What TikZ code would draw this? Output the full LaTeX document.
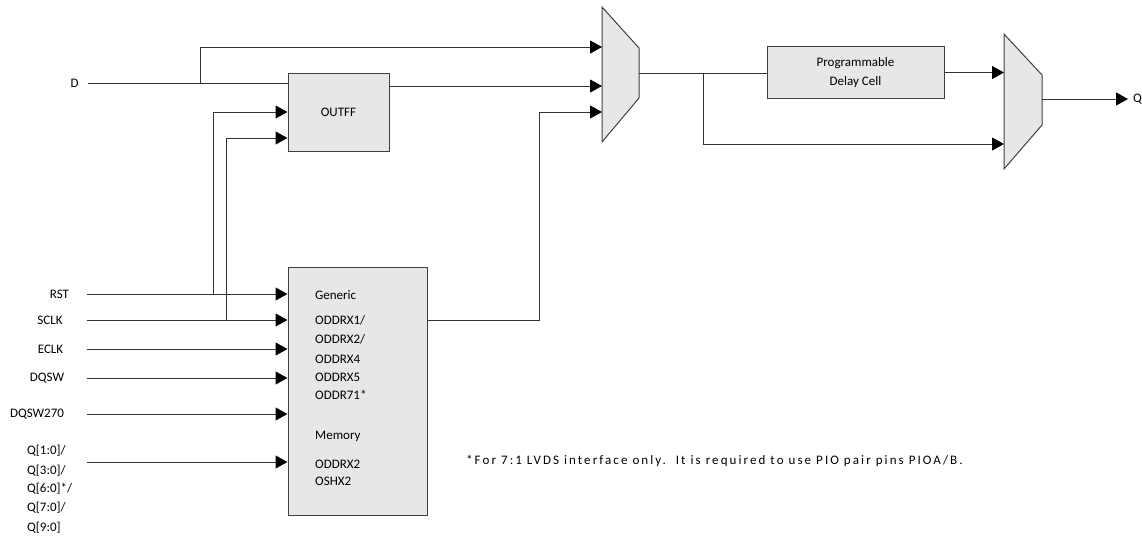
\documentclass[tikz,border=0pt]{standalone}
\usepackage{fontspec}
\setmainfont{Carlito}
\usetikzlibrary{arrows.meta}
\definecolor{linec}{HTML}{333333}
\definecolor{boxf}{HTML}{E6E7E8}
\definecolor{boxd}{HTML}{404040}
\begin{document}
\begin{tikzpicture}[x=1pt,y=-1pt, font=\fontsize{13}{15}\selectfont,
  wire/.style={draw=linec, line width=1pt},
  arr/.style={wire, -{Triangle[length=12pt,width=13pt,color=black]}},
  blk/.style={draw=boxd, fill=boxf, line width=1pt, inner sep=0pt},
  lbl/.style={inner sep=0pt, text=black},
  gtxt/.style={lbl, anchor=west}]
\useasboundingbox (0,0) rectangle (1142,544);

% blocks
\node[blk, minimum width=101pt, minimum height=78pt] (outff) at (338.5,112) {OUTFF};
\node[blk, minimum width=139pt, minimum height=248pt] (gen) at (357.5,391) {};
\node[blk, minimum width=177pt, minimum height=52pt, align=center,
      font=\fontsize{13}{19}\selectfont] (delay) at (855.5,72.5) {Programmable\\Delay Cell};

% muxes
\draw[blk] (602,7) -- (639,48) -- (639,98) -- (602,142) -- cycle;
\coordinate (m1a) at (602,47);
\coordinate (m1b) at (602,86);
\coordinate (m1c) at (602,112);
\coordinate (m1o) at (639,73);
\draw[blk] (1004,34) -- (1042,75) -- (1042,125) -- (1004,169) -- cycle;
\coordinate (m2a) at (1004,72.5);
\coordinate (m2b) at (1004,144);
\coordinate (m2o) at (1042,99);

% generic block texts
\node[gtxt] (g1) at (315,295) {Generic};
\node[gtxt] (g2) at (315,320) {ODDRX1/};
\node[gtxt] (g3) at (315,339) {ODDRX2/};
\node[gtxt] (g4) at (315,359) {ODDRX4};
\node[gtxt] (g5) at (315,377) {ODDRX5};
\node[gtxt] (g6) at (315,395) {ODDR71*};
\node[gtxt] (g7) at (315,436) {Memory};
\node[gtxt] (g8) at (315,464) {ODDRX2};
\node[gtxt] (g9) at (315,481) {OSHX2};

% input labels
\node[lbl] (d) at (74.5,83) {D};
\node[lbl] (rst) at (59.5,294) {RST};
\node[lbl] (sclk) at (50,320) {SCLK};
\node[lbl] (eclk) at (50.5,349) {ECLK};
\node[lbl] (dqsw) at (47,378) {DQSW};
\node[lbl] (dqsw270) at (37,414) {DQSW270};
\node[lbl, anchor=west] (q1) at (27,451) {Q[1:0]/};
\node[lbl, anchor=west] (q2) at (27,471) {Q[3:0]/};
\node[lbl, anchor=west] (q3) at (27,489) {Q[6:0]*/};
\node[lbl, anchor=west] (q4) at (27,508) {Q[7:0]/};
\node[lbl, anchor=west] (q5) at (27,528) {Q[9:0]};
\node[lbl, anchor=west] (qout) at (1133,99) {Q};

% footnote
\node[lbl, anchor=west, font=\fontsize{13}{15}\selectfont\addfontfeature{LetterSpace=16}] (note) at (466,461) {*For 7:1 LVDS interface only.\ \ It is required to use PIO pair pins PIOA/B.};

% start points of input wires
\coordinate (d0) at (88,83);
\coordinate (rst0) at (87,294);
\coordinate (sclk0) at (87,320);
\coordinate (eclk0) at (87,349);
\coordinate (dqsw0) at (87,378);
\coordinate (dqsw2700) at (87,414);
\coordinate (q0) at (87,462);

% junctions
\coordinate (jd) at (200,83);
\coordinate (jr) at (213,294);
\coordinate (js) at (226,320);
\coordinate (jm) at (703,73);

% wires
\draw[wire] (d0) -- (d0 -| outff.west);
\draw[arr] (jd) |- (m1a);
\draw[arr] (jr) |- (outff.west);
\draw[arr] (js) |- ([yshift=-26pt]outff.west);
\draw[arr] (outff.east |- m1b) -- (m1b);

\draw[arr] (rst0) -- (rst0 -| gen.west);
\draw[arr] (sclk0) -- (sclk0 -| gen.west);
\draw[arr] (eclk0) -- (eclk0 -| gen.west);
\draw[arr] (dqsw0) -- (dqsw0 -| gen.west);
\draw[arr] (dqsw2700) -- (dqsw2700 -| gen.west);
\draw[arr] (q0) -- (q0 -| gen.west);

\draw[arr] (gen.east |- sclk0) -- ++(112,0) |- (m1c);

\draw[wire] (m1o) -- (m1o -| delay.west);
\draw[arr] (jm) |- (m2b);
\draw[arr] (delay.east) -- (m2a);
\draw[arr] (m2o) -- ([xshift=-5pt]qout.west);
\end{tikzpicture}
\end{document}
